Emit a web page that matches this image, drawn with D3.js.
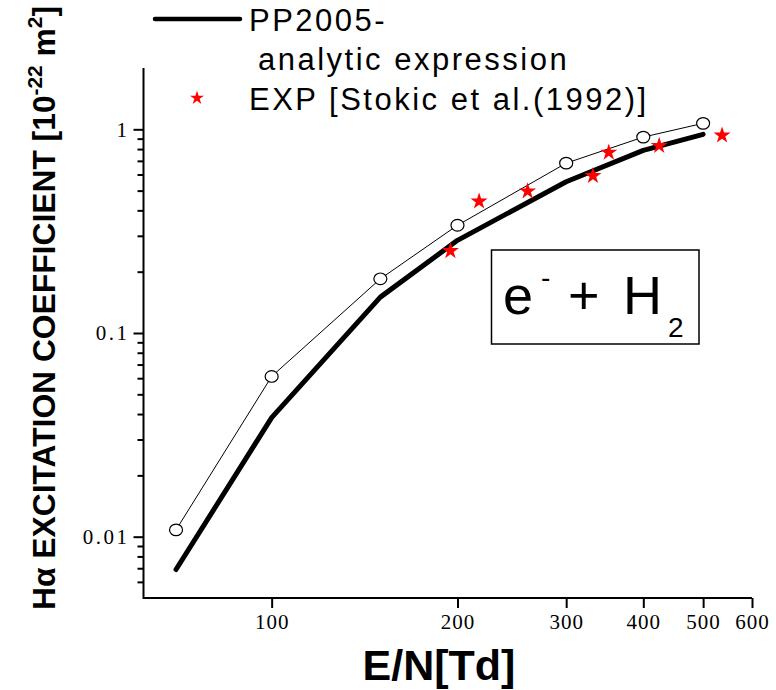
<!DOCTYPE html>
<html>
<head>
<meta charset="utf-8">
<script src="https://cdn.jsdelivr.net/npm/d3@7"></script>
<style>
  html, body { margin: 0; padding: 0; background: #fff; }
  svg { display: block; }
</style>
</head>
<body>
<svg id="chart" width="776" height="690"></svg>
<script>
// ---- data ----
const eN = [70, 100, 150, 200, 300, 400, 500];
const analytic = [0.0069, 0.0384, 0.150, 0.285, 0.553, 0.788, 0.945];
const circles = [0.0108, 0.0612, 0.1845, 0.338, 0.682, 0.916, 1.07];
const expX = [194.8, 216.8, 259.8, 331.5, 351.7, 424.4, 536.6];
const expY = [0.253, 0.443, 0.497, 0.591, 0.770, 0.831, 0.934];
const xTicks = [100, 200, 300, 400, 500, 600];
const yTicks = [0.01, 0.1, 1];
const yTickLabels = ["0.01", "0.1", "1"];

const svg = d3.select("#chart");
const x = d3.scaleLog().domain([62, 600]).range([143.5, 752]);
const y = d3.scaleLog().domain([0.005, 2]).range([598, 68]);

const serif = "'Liberation Serif', 'Times New Roman', serif";
const sans = "'Liberation Sans', Arial, sans-serif";

// ---- axes ----
const xAxis = d3.axisBottom(x).tickValues(xTicks).tickFormat(d3.format("d")).tickSize(10).tickPadding(6);
const gx = svg.append("g").attr("transform", "translate(0,598)").call(xAxis);
gx.select(".domain").attr("stroke", "#000").attr("stroke-width", 2).attr("d", `M${x.range()[0]},0H${x.range()[1]}`);
gx.selectAll(".tick line").attr("stroke", "#000").attr("stroke-width", 2);
gx.selectAll(".tick text").attr("font-family", serif).attr("font-size", 21).attr("fill", "#000").style("letter-spacing", "1px");

const minor = y.ticks().filter(v => !yTicks.some(t => Math.abs(t - v) / t < 1e-6) && v > 0.005 * 1.01 && v < 2 * 0.99);
const gyMinor = svg.append("g").attr("transform", "translate(143.5,0)")
  .call(d3.axisLeft(y).tickValues(minor).tickSize(6).tickFormat(""));
gyMinor.select(".domain").remove();
gyMinor.selectAll(".tick line").attr("stroke", "#000").attr("stroke-width", 2);

const yAxis = d3.axisLeft(y).tickValues(yTicks).tickFormat((d, i) => yTickLabels[i]).tickSize(10).tickPadding(4);
const gy = svg.append("g").attr("transform", "translate(143.5,0)").call(yAxis);
gy.select(".domain").attr("stroke", "#000").attr("stroke-width", 2).attr("d", `M0,${y.range()[1]}V${y.range()[0] + 1}`);
gy.selectAll(".tick line").attr("stroke", "#000").attr("stroke-width", 2);
gy.selectAll(".tick text").attr("font-family", serif).attr("font-size", 21).attr("fill", "#000").style("letter-spacing", "2.5px");

// ---- series ----
const line = d3.line().x(d => x(d[0])).y(d => y(d[1]));
svg.append("path").datum(eN.map((v, i) => [v, circles[i]]))
  .attr("d", line).attr("fill", "none").attr("stroke", "#000").attr("stroke-width", 1);
svg.append("path").datum(eN.map((v, i) => [v, analytic[i]]))
  .attr("d", line).attr("fill", "none").attr("stroke", "#000").attr("stroke-width", 5)
  .attr("stroke-linecap", "round").attr("stroke-linejoin", "round");
svg.append("g").selectAll("ellipse").data(eN.map((v, i) => [v, circles[i]])).join("ellipse")
  .attr("cx", d => x(d[0])).attr("cy", d => y(d[1])).attr("rx", 6.5).attr("ry", 5.8)
  .attr("fill", "#fff").attr("stroke", "#000").attr("stroke-width", 1.2);
const star = d3.symbol().type(d3.symbolStar).size(90);
svg.append("g").selectAll("path").data(expX.map((v, i) => [v, expY[i]])).join("path")
  .attr("d", star).attr("transform", d => `translate(${x(d[0])},${y(d[1])})`).attr("fill", "#ff0000");

// ---- legend ----
svg.append("line").attr("x1", 155).attr("x2", 240).attr("y1", 19).attr("y2", 19)
  .attr("stroke", "#000").attr("stroke-width", 4.5).attr("stroke-linecap", "round");
const leg = svg.append("g").attr("font-family", sans).attr("font-size", 31).attr("fill", "#000").style("letter-spacing", "2.5px");
leg.append("text").attr("x", 249).attr("y", 31).text("PP2005-");
leg.append("text").attr("x", 258).attr("y", 70).text("analytic expression");
leg.append("text").attr("x", 249).attr("y", 110).text("EXP [Stokic et al.(1992)]");
svg.append("path").attr("d", d3.symbol().type(d3.symbolStar).size(60)).attr("transform", "translate(197,98)").attr("fill", "#ff0000");

// ---- annotation box ----
svg.append("rect").attr("x", 491.5).attr("y", 250).attr("width", 207.5).attr("height", 94)
  .attr("fill", "none").attr("stroke", "#000").attr("stroke-width", 1.5);
const ann = svg.append("g").attr("font-family", sans).attr("fill", "#000");
ann.append("text").attr("x", 503).attr("y", 314).attr("font-size", 54).text("e");
ann.append("text").attr("x", 541).attr("y", 287).attr("font-size", 28).text("-");
ann.append("text").attr("x", 568).attr("y", 314).attr("font-size", 54).text("+");
ann.append("text").attr("x", 623).attr("y", 314).attr("font-size", 54).text("H");
ann.append("text").attr("x", 668).attr("y", 337).attr("font-size", 28).text("2");

// ---- axis titles ----
svg.append("text").attr("x", 439).attr("y", 680).attr("text-anchor", "middle")
  .attr("font-family", sans).attr("font-weight", "bold").attr("font-size", 43).text("E/N[Td]");

const yt = svg.append("text").attr("transform", "translate(55,308) rotate(-90)")
  .attr("text-anchor", "middle").attr("font-family", sans).attr("font-weight", "bold").attr("font-size", 32)
  .attr("textLength", 604).attr("lengthAdjust", "spacingAndGlyphs");
yt.append("tspan").text("H\u03B1 EXCITATION COEFFICIENT [10");
yt.append("tspan").attr("dy", -13).attr("font-size", 21).text("-22");
yt.append("tspan").attr("dy", 13).text("  m");
yt.append("tspan").attr("dy", -13).attr("font-size", 21).text("2");
yt.append("tspan").attr("dy", 13).text("]");
</script>
</body>
</html>
